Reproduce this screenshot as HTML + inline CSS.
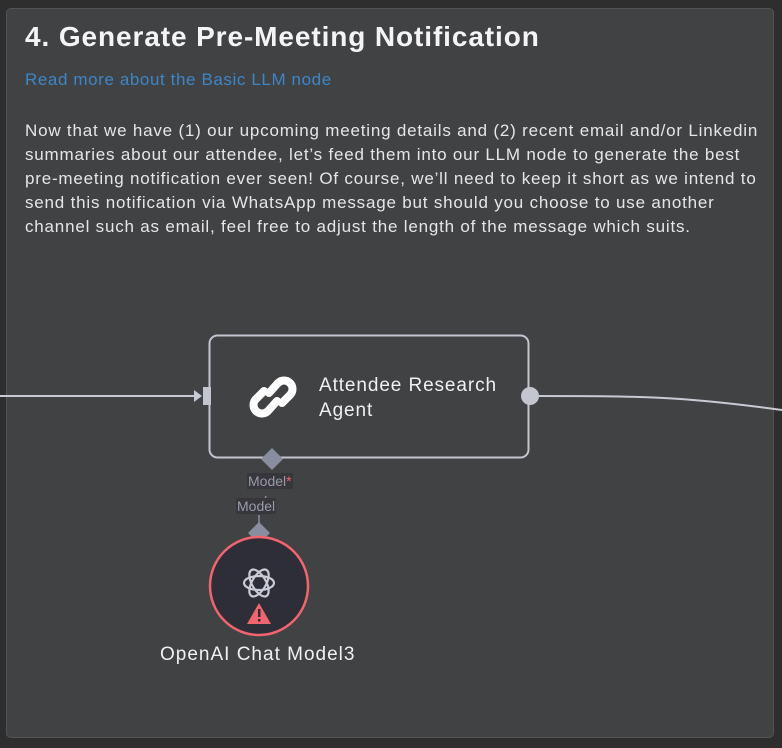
<!DOCTYPE html>
<html><head><meta charset="utf-8"><style>
html,body{margin:0;padding:0;background:#2e2e2e;width:782px;height:748px;overflow:hidden;font-family:"Liberation Sans",sans-serif}
.note{position:absolute;left:6px;top:8px;width:766px;height:728px;background:#414244;border:1px solid #525355;border-radius:5px}
h1{position:absolute;left:25px;top:21px;margin:0;font-size:28px;font-weight:bold;color:#f4f4f6;letter-spacing:0.9px;white-space:nowrap}
.link{position:absolute;left:25px;top:70px;font-size:17px;color:#3d86c6;letter-spacing:0.6px;white-space:nowrap}
.p{position:absolute;left:25px;top:119px;font-size:17px;line-height:24px;color:#e6e6e8;letter-spacing:0.8px;white-space:nowrap}
svg{position:absolute;left:0;top:0}
.lbl{position:absolute;font-size:14px;color:#9a9aaa;background:#36363b;padding:0 1px;line-height:16px}
</style></head><body>
<div class="note"></div>
<h1>4. Generate Pre-Meeting Notification</h1>
<div class="link">Read more about the Basic LLM node</div>
<div class="p">Now that we have (1) our upcoming meeting details and (2) recent email and/or Linkedin<br>summaries about our attendee, let’s feed them into our LLM node to generate the best<br>pre-meeting notification ever seen! Of course, we’ll need to keep it short as we intend to<br>send this notification via WhatsApp message but should you choose to use another<br>channel such as email, feel free to adjust the length of the message which suits.</div>
<svg width="782" height="748">
<path d="M0 396 L196 396" stroke="#c8cad4" stroke-width="2" fill="none"/>
<path d="M194 390 L202 396 L194 402 Z" fill="#c8cad4"/>
<path d="M530 396 C640 396 680 396 782 410" stroke="#c8cad4" stroke-width="2" fill="none"/>
<rect x="209.5" y="335.5" width="319" height="122" rx="8" fill="#414244" stroke="#c3c5cf" stroke-width="2"/>
<rect x="203" y="387" width="8" height="18" fill="#c3c5cf"/>
<circle cx="530" cy="396" r="9" fill="#c3c5cf"/>
<path d="M272 448 L283 459 L272 470 L261 459 Z" fill="#8a8ca0"/>
<path d="M259 522 L270 533 L259 544 L248 533 Z" fill="#8a8ca0"/>
<path d="M259 524 L259 515 M266 496 L264 502" stroke="#8a8ca0" stroke-width="1.5"/>
<g transform="translate(273,397)" fill="none" stroke="#fff" stroke-width="8" stroke-linecap="round">
<path d="M-4 -4 L5 -14 a8 8 0 0 1 12 12 L9 6"/>
<path d="M4 4 L-5 14 a8 8 0 0 1 -12 -12 L-9 -6"/>
</g>
<circle cx="259" cy="586" r="49" fill="#2d2e38" stroke="#f2646e" stroke-width="2.5"/>
<g transform="translate(259,583)" fill="none" stroke="#c9cbd6" stroke-width="2.2">
<ellipse rx="15" ry="7" transform="rotate(0)"/>
<ellipse rx="15" ry="7" transform="rotate(60)"/>
<ellipse rx="15" ry="7" transform="rotate(120)"/>
</g>
<path d="M259 603 L271 624 L247 624 Z" fill="#f2646e"/>
<rect x="258" y="609" width="2.5" height="8" fill="#2d2e38"/>
<rect x="258" y="619" width="2.5" height="2.5" fill="#2d2e38"/>
</svg>
<div class="lbl" style="left:247px;top:473px">Model<span style="color:#f2646e">*</span></div>
<div class="lbl" style="left:236px;top:498px">Model</div>
<div style="position:absolute;left:160px;top:644px;font-size:19px;color:#f0f0f2;letter-spacing:1px;white-space:nowrap">OpenAI Chat Model3</div>
<div style="position:absolute;left:319px;top:373px;font-size:19px;line-height:25px;color:#f0f0f2;letter-spacing:0.9px;white-space:nowrap">Attendee Research<br>Agent</div>
</body></html>
